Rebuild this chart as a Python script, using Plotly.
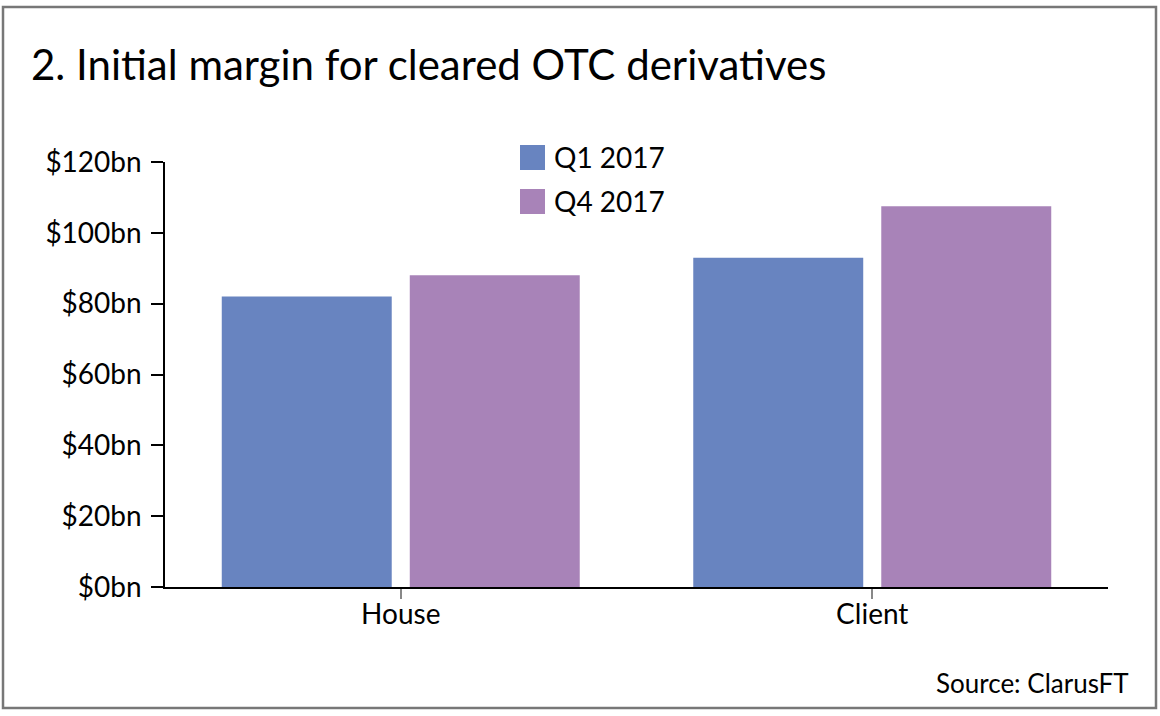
import plotly.graph_objects as go

categories = ["House", "Client"]
q1_2017 = [82, 93]
q4_2017 = [88, 107.5]
series_names = ["Q1 2017", "Q4 2017"]
tick_vals = [0, 20, 40, 60, 80, 100, 120]
tick_text = ["$0bn", "$20bn", "$40bn", "$60bn", "$80bn", "$100bn", "$120bn"]

BLUE = "#6884c0"
PURPLE = "#a883b8"
FONT = "Lato, sans-serif"

W, H = 1160, 716
L, R, T, B = 165, 52, 162, 129
PW, PH = W - L - R, H - T - B


def px(x):
    return (x - L) / PW


def py(y):
    return (H - B - y) / PH


fig = go.Figure()
fig.add_trace(go.Bar(x=categories, y=q1_2017, name=series_names[0],
                     marker=dict(color=BLUE, line=dict(width=0)), showlegend=False))
fig.add_trace(go.Bar(x=categories, y=q4_2017, name=series_names[1],
                     marker=dict(color=PURPLE, line=dict(width=0)), showlegend=False))

shapes = [
    dict(type="rect", xref="paper", yref="paper", x0=px(3), x1=px(1156), y0=py(708), y1=py(7),
         line=dict(color="#777777", width=2.5), fillcolor="rgba(0,0,0,0)", layer="below"),
    dict(type="rect", xref="paper", yref="paper", x0=px(520), x1=px(545), y0=py(170), y1=py(145),
         line=dict(width=0), fillcolor=BLUE),
    dict(type="rect", xref="paper", yref="paper", x0=px(520), x1=px(545), y0=py(214), y1=py(189),
         line=dict(width=0), fillcolor=PURPLE),
]

annotations = [
    dict(text="2. Initial margin for cleared OTC derivatives", xref="paper", yref="paper",
         x=px(29), y=py(64), xanchor="left", yanchor="middle", showarrow=False,
         font=dict(family=FONT, size=42, color="#000000")),
    dict(text=series_names[0], xref="paper", yref="paper", x=px(552), y=py(157),
         xanchor="left", yanchor="middle", showarrow=False,
         font=dict(family=FONT, size=28, color="#000000")),
    dict(text=series_names[1], xref="paper", yref="paper", x=px(552), y=py(201),
         xanchor="left", yanchor="middle", showarrow=False,
         font=dict(family=FONT, size=28, color="#000000")),
    dict(text="Source: ClarusFT", xref="paper", yref="paper", x=px(1131), y=py(683),
         xanchor="right", yanchor="middle", showarrow=False,
         font=dict(family=FONT, size=26, color="#000000")),
]

fig.update_layout(
    width=W, height=H,
    margin=dict(l=L, r=R, t=T, b=B, pad=0),
    paper_bgcolor="white", plot_bgcolor="white",
    barmode="group", bargap=0.2025, bargroupgap=0.096,
    font=dict(family=FONT, size=27, color="#000000"),
    shapes=shapes, annotations=annotations,
    xaxis=dict(showline=True, linecolor="#000000", linewidth=1.5, ticks="outside",
               ticklen=10, tickcolor="#888888", tickwidth=1.5, showgrid=False,
               tickfont=dict(size=28), ticklabelstandoff=-8),
    yaxis=dict(range=[0, 120], tickvals=tick_vals, ticktext=tick_text, showline=True,
               linecolor="#000000", linewidth=1.5, ticks="outside", ticklen=12,
               tickcolor="#000000", tickwidth=1.5, showgrid=False, zeroline=False,
               tickfont=dict(size=28), ticklabelstandoff=4),
)

fig.write_html("out.html", config={"displayModeBar": False},
               post_script="document.body.style.margin='0';document.body.style.padding='0';")
